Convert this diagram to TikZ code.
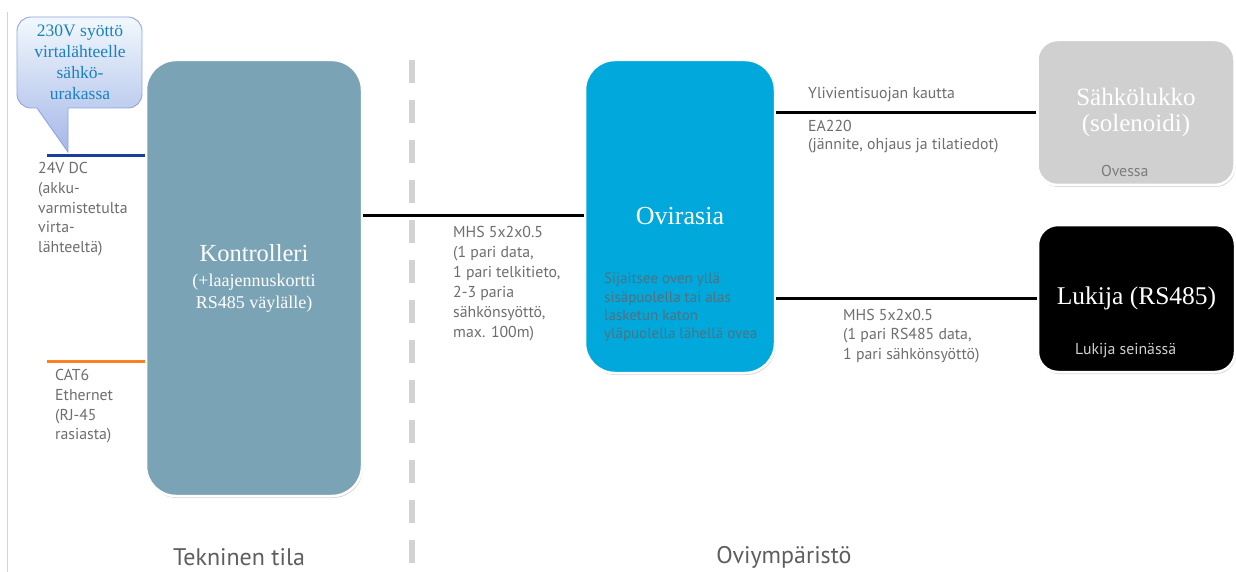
\documentclass[tikz,border=0pt]{standalone}
\usepackage{fontspec}
\setmainfont{Liberation Serif}
\newfontfamily\sansf{PT Sans}
\usetikzlibrary{shadows}
\definecolor{kontr}{HTML}{7AA4B5}
\definecolor{ovi}{HTML}{00A8DC}
\definecolor{lukko}{HTML}{D0D0D0}
\definecolor{txtgray}{HTML}{6E6E6E}
\definecolor{ovitxt}{HTML}{52717E}
\definecolor{callblue}{HTML}{1E8FD2}
\definecolor{calledge}{HTML}{8FA5E2}
\definecolor{dcblue}{HTML}{1A3E9C}
\definecolor{ethorange}{HTML}{FF7F20}
\definecolor{dashgray}{HTML}{D3D3D3}
\begin{document}
\begin{tikzpicture}[x=1pt,y=-1pt,
  bigbox/.style={draw=white,line width=2.5pt,rounded corners=30pt,
    drop shadow={opacity=0.3,shadow xshift=1pt,shadow yshift=-2pt},
    text=white,align=center,inner sep=0pt},
  smallbox/.style={bigbox,rounded corners=20pt},
  note/.style={font=\sansf\fontsize{15.8}{19.8}\selectfont,text=txtgray,align=left,inner sep=0pt,anchor=north west},
  wire/.style={line width=3pt,black},
  zone/.style={font=\sansf\fontsize{24}{26}\selectfont,text=txtgray!85!black,inner sep=0pt}
]
\useasboundingbox (0,0) rectangle (1236,572);
\fill[white] (0,0) rectangle (1236,572);
% left thin border
\draw[dashgray,line width=0.8pt] (7.5,12) -- (7.5,572);
% dashed separator
\draw[dashgray,line width=6pt,dash pattern=on 23pt off 17pt] (412,60) -- (412,572);

% boxes
\node[bigbox,fill=kontr,minimum width=216pt,minimum height=436pt,font=\fontsize{18}{22}\selectfont] (k) at (254,278)
  {{\fontsize{24.5}{27}\selectfont Kontrolleri}\\[3pt](+laajennuskortti\\RS485 väylälle)};
\node[bigbox,fill=ovi,minimum width=190pt,minimum height=313pt,font=\fontsize{26}{28}\selectfont] (o) at (680,216.5)
  {Ovirasia};
\node[smallbox,fill=lukko,minimum width=197pt,minimum height=145pt,font=\fontsize{25}{26}\selectfont] (s) at (1136,112.5)
  {Sähkölukko\\(solenoidi)};
\node[smallbox,fill=black,minimum width=197pt,minimum height=147pt,font=\fontsize{25.5}{27}\selectfont] (l) at (1136.5,298.5)
  {Lukija (RS485)};

% inner notes
\node[note,text=ovitxt,font=\sansf\fontsize{15}{18.3}\selectfont] (onote) at (604,273)
  {Sijaitsee oven yllä\\sisäpuolella tai alas\\lasketun katon\\yläpuolella lähellä ovea};
\node[note,text=txtgray!90!white] (snote) at (1101,165) {Ovessa};
\node[note,text=lukko] (lnote) at (1075,343) {Lukija seinässä};

% callout
\draw[calledge,line width=0.9pt,top color=callblue!6!white,bottom color=calledge!80!white]
  (17,60) [rounded corners=14pt] -- (17,17) -- (142,17) -- (142,108) [sharp corners] -- (68,108)
  -- (68,152) -- (37,108) [rounded corners=14pt] -- (17,108) -- cycle;
\node[text=callblue!90!black,align=center,font=\fontsize{17.5}{21}\selectfont,inner sep=0pt] (ct) at (80,62)
  {230V syöttö\\virtalähteelle\\sähkö-\\urakassa};

% power / ethernet feeds
\coordinate (y24) at (0,155.5);
\coordinate (yeth) at (0,361.5);
\coordinate (p24) at (47,155.5);
\coordinate (peth) at (47,361.5);
\draw[dcblue,line width=3.8pt] (p24) -- (k.west |- y24);
\draw[ethorange,line width=3.8pt] (peth) -- (k.west |- yeth);
\node[note] (n24) at (38,162) {24V DC\\(akku-\\varmistetulta\\virta-\\lähteeltä)};
\node[note] (neth) at (55,369) {CAT6\\Ethernet\\(RJ-45\\rasiasta)};

% wires
\coordinate (yko) at (0,215);
\coordinate (yos) at (0,113);
\coordinate (yol) at (0,298);
\draw[wire] (k.east |- yko) -- (o.west |- yko);
\draw[wire] (o.east |- yos) -- (s.west |- yos);
\draw[wire] (o.east |- yol) -- (l.west |- yol);

\node[note,font=\sansf\fontsize{15.8}{20}\selectfont] (mhs1) at (453,226)
  {MHS 5x2x0.5\\(1 pari data,\\1 pari telkitieto,\\2-3 paria\\sähkönsyöttö,\\max. 100m)};
\node[note] (yliv) at (808,87) {Ylivientisuojan kautta};
\node[note,font=\sansf\fontsize{15.8}{18.5}\selectfont] (ea) at (808,120) {EA220\\(jännite, ohjaus ja tilatiedot)};
\node[note,font=\sansf\fontsize{15.8}{19.3}\selectfont] (mhs2) at (843,309)
  {MHS 5x2x0.5\\(1 pari RS485 data,\\1 pari sähkönsyöttö)};

% zone labels
\node[zone] (z1) at (239,557) {Tekninen tila};
\node[zone] (z2) at (784,557) {Oviympäristö};
\end{tikzpicture}
\end{document}
